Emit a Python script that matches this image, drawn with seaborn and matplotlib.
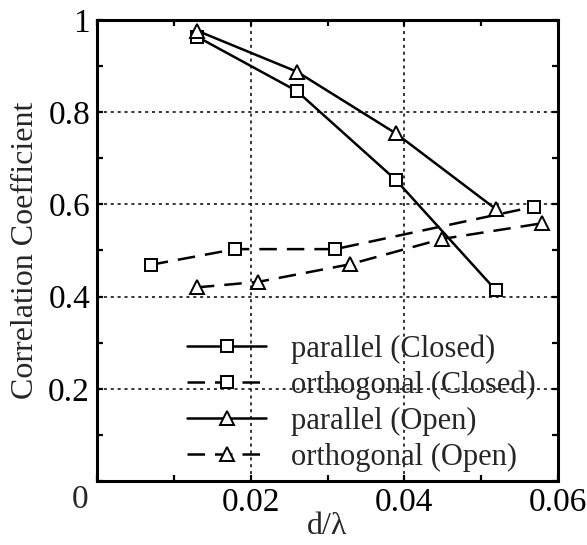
import matplotlib
matplotlib.use('Agg')
import matplotlib.pyplot as plt
import matplotlib.transforms as mtransforms
from matplotlib.ticker import MultipleLocator
import seaborn as sns

# values
par_closed_x = [0.0130, 0.0260, 0.0389, 0.0519]
par_closed_y = [0.964, 0.846, 0.653, 0.414]
orth_closed_x = [0.0070, 0.0180, 0.0310, 0.0569]
orth_closed_y = [0.469, 0.503, 0.503, 0.595]
par_open_x = [0.0130, 0.0260, 0.0389, 0.0519]
par_open_y = [0.977, 0.888, 0.754, 0.590]
orth_open_x = [0.0130, 0.0210, 0.0329, 0.0449, 0.0579]
orth_open_y = [0.420, 0.432, 0.470, 0.525, 0.559]

x_ticks = [0.02, 0.04, 0.06]
x_ticklabels = ["0.02", "0.04", "0.06"]
y_ticks = [0.2, 0.4, 0.6, 0.8, 1.0]
y_ticklabels = ["0.2", "0.4", "0.6", "0.8", "1"]

series = [
    ("parallel (Closed)", par_closed_x, par_closed_y, "s", "-"),
    ("orthogonal (Closed)", orth_closed_x, orth_closed_y, "s", (0, (7, 4))),
    ("parallel (Open)", par_open_x, par_open_y, "^", "-"),
    ("orthogonal (Open)", orth_open_x, orth_open_y, "^", (0, (7, 4))),
]

FS = 22      # legend
TFS = 24     # tick labels

sns.set_theme(style="ticks")
plt.rcParams['font.family'] = ['Liberation Serif', 'DejaVu Serif']
plt.rcParams['font.size'] = FS

fig = plt.figure(figsize=(5.87, 5.45), dpi=100)
ax = fig.add_axes([97 / 587, 1 - 481 / 545, 461 / 587, 461 / 545])

for name, xs, ys, mk, ls in series:
    sns.lineplot(x=xs, y=ys, ax=ax, color="black", marker=mk, linestyle=ls,
                 linewidth=1.8, markersize=8 if mk == "s" else 9.5,
                 markerfacecolor="white", markeredgecolor="black",
                 markeredgewidth=1.4, label=name, sort=False, zorder=3)

ax.set_xlim(0, 0.06)
ax.set_ylim(0, 1)
ax.xaxis.set_minor_locator(MultipleLocator(0.01))
ax.yaxis.set_minor_locator(MultipleLocator(0.1))
ax.set_xticks(x_ticks)
ax.set_xticklabels(x_ticklabels)
ax.set_yticks(y_ticks)
ax.set_yticklabels(y_ticklabels)
# single "0" at the origin corner
ax.text(0, 0, "0", fontsize=TFS, ha="center", va="center",
        transform=ax.transAxes + mtransforms.ScaledTranslation(-17 / 100, -19 / 100, fig.dpi_scale_trans))

ax.grid(True, which="major", color="black", linestyle=(0, (2, 2.5)), linewidth=1.1)
ax.tick_params(which="both", direction="in", top=True, right=True,
               length=4.5, width=1.6, labelsize=TFS, colors="black", pad=5)
for s in ax.spines.values():
    s.set_linewidth(2.2)
    s.set_color("black")

ax.set_xlabel("d/\u03bb", fontsize=23, labelpad=-5)
ax.set_ylabel("Correlation Coefficient", fontsize=23, labelpad=6)

ax.legend(loc="upper left", bbox_to_anchor=(0.195, 0.318), frameon=False,
          fontsize=FS, handlelength=2.6, handletextpad=0.8, labelspacing=0.22,
          borderpad=0, borderaxespad=0, numpoints=1)

fig.savefig("out.png", dpi=100)
